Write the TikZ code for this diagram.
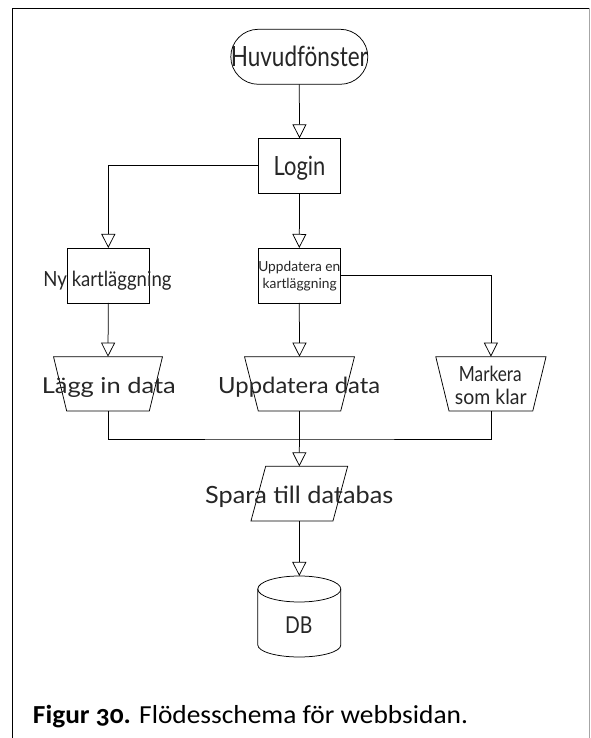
\documentclass[tikz,border=0pt]{standalone}
\usepackage{fontspec}
\usepackage{graphicx}
\usetikzlibrary{arrows.meta}
\newfontfamily\cadfont{Lato}
\newfontfamily\capfont{Carlito}[Numbers=OldStyle]
\newcommand\fitw[2]{\makebox[0pt]{\resizebox{#1}{\height}{#2}}}
\newcommand\cadsize[1]{\cadfont\fontsize{#1}{#1}\selectfont}
\begin{document}
\begin{tikzpicture}[x=1pt,y=1pt,
  lbl/.style={inner sep=0pt, outer sep=0pt, anchor=base, text=black!85},
  ln/.style={line width=0.75pt, draw=black},
  arr/.style={ln, -{Triangle[open, length=14pt, width=14pt]}},
  box/.style={ln, rectangle, inner sep=0pt, outer sep=0pt, minimum width=82.4pt, minimum height=55pt},
  ghost/.style={rectangle, inner sep=0pt, outer sep=0pt, minimum height=54.4pt},
]
\fill[white] (0,0) rectangle (590,738);
\useasboundingbox (0,0) rectangle (590,738);
% frame
\draw[line width=1.8pt] (12.5,0) -- (12.5,729.5) -- (590,729.5);
\draw[line width=0.6pt, black!35] (588.8,0) -- (588.8,729.5);

% shapes
\node[ln, rectangle, rounded corners=27.5pt, minimum width=137pt, minimum height=55pt, inner sep=0pt, outer sep=0pt] (huvud) at (299.3,681.2) {};
\node[box] (login) at (299.5,572.2) {};
\node[box] (ny) at (108.3,462.5) {};
\node[box] (upp) at (299.3,462.5) {};
\node[ghost, minimum width=82.6pt] (lagg) at (108,354.1) {};
\node[ghost, minimum width=82.4pt] (uppd) at (299.5,354.1) {};
\node[ghost, minimum width=83.7pt] (mark) at (490.9,354.1) {};
\node[ghost, minimum width=82pt, minimum height=54.7pt] (spara) at (299.3,244.3) {};
\node[ghost, minimum width=83pt, minimum height=81pt] (db) at (299.3,121.5) {};

\draw[ln] ([xshift=-13.2pt]lagg.north west) -- ([xshift=13.2pt]lagg.north east) -- (lagg.south east) -- (lagg.south west) -- cycle;
\draw[ln] ([xshift=-13.8pt]uppd.north west) -- ([xshift=13.8pt]uppd.north east) -- (uppd.south east) -- (uppd.south west) -- cycle;
\draw[ln] ([xshift=-13.3pt]mark.north west) -- ([xshift=13.3pt]mark.north east) -- (mark.south east) -- (mark.south west) -- cycle;
\draw[ln] ([xshift=7.35pt]spara.north west) -- ([xshift=7.35pt]spara.north east) -- ([xshift=-7.35pt]spara.south east) -- ([xshift=-7.35pt]spara.south west) -- cycle;
\draw[ln] ([yshift=-13pt]db.north) ellipse [x radius=41.5pt, y radius=13pt];
\draw[ln] ([yshift=-13pt]db.north west) -- ([yshift=12pt]db.south west) arc [start angle=180, end angle=360, x radius=41.5pt, y radius=12pt] -- ([yshift=-13pt]db.north east);

% connectors
\coordinate (mrg) at (299.3,299);
\draw[arr] (huvud.south) -- (login.north);
\draw[arr] (login.west) -| (ny.north);
\draw[arr] (login.south) -- (upp.north);
\draw[arr] (ny.south) -- (lagg.north);
\draw[arr] (upp.south) -- (uppd.north);
\draw[arr] (upp.east) -| (mark.north);
\draw[ln] (lagg.south) |- (mrg) -| (mark.south);
\draw[arr] (uppd.south) -- (spara.north);
\draw[arr] (spara.south) -- (db.north);

% texts
\node[lbl, font=\cadsize{27.9}] (huvud-t) at (299.3,671.3) {\fitw{137pt}{Huvudfönster}};
\node[lbl, font=\cadsize{26.5}] (login-t) at (299.5,562.3) {\fitw{51.7pt}{Login}};
\node[lbl, font=\cadsize{20.9}] (ny-t) at (107.5,451.3) {\fitw{128pt}{Ny kartläggning}};
\node[lbl, font=\cadsize{13.9}] (upp-t1) at (299.3,466.3) {\fitw{82pt}{Uppdatera en}};
\node[lbl, font=\cadsize{13.9}] (upp-t2) at (299.7,449) {\fitw{74pt}{kartläggning}};
\node[lbl, font=\cadsize{21.9}] (lagg-t) at (108.8,344.7) {\fitw{134pt}{Lägg in data}};
\node[lbl, font=\cadsize{22.3}] (uppd-t) at (299.2,344.7) {\fitw{162pt}{Uppdatera data}};
\node[lbl, font=\cadsize{20.9}] (mark-t1) at (490.3,356.3) {\fitw{62.7pt}{Markera}};
\node[lbl, font=\cadsize{20.9}] (mark-t2) at (490.8,333) {\fitw{71.7pt}{som klar}};
\node[lbl, font=\cadsize{23.7}] (spara-t) at (299.2,234.7) {\fitw{188pt}{Spara till databas}};
\node[lbl, font=\cadsize{23.3}] (db-t) at (298.7,104.7) {\fitw{27.3pt}{DB}};

% caption
\node[inner sep=0pt, outer sep=0pt, anchor=base west, font=\capfont\fontsize{26}{30}\selectfont] (cap) at (33,15) {\resizebox{435pt}{\height}{\textbf{Figur 30.} Flödesschema för webbsidan.}};
\end{tikzpicture}
\end{document}
